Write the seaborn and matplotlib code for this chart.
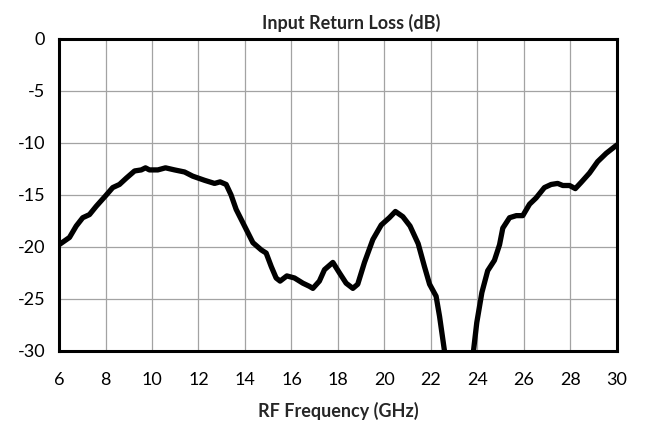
import numpy as np
import pandas as pd
import seaborn as sns
import matplotlib.pyplot as plt

# values (frequency in GHz, return loss in dB)
freq = [6.0, 6.45, 6.74, 7.02, 7.31, 7.6, 8.0, 8.31, 8.6, 8.89, 9.25, 9.54, 9.72, 9.89,
        10.25, 10.58, 10.97, 11.4, 11.75, 12.26, 12.69, 12.93, 13.19, 13.4, 13.62, 13.98,
        14.34, 14.7, 14.91, 15.13, 15.34, 15.51, 15.8, 16.13, 16.49, 16.77, 16.92, 17.2,
        17.42, 17.78, 18.06, 18.35, 18.64, 18.85, 19.14, 19.5, 19.86, 20.21, 20.47, 20.79,
        21.1, 21.45, 21.72, 21.94, 22.22, 22.37, 22.58, 22.8, 23.2, 23.65, 23.83, 23.97,
        24.19, 24.44, 24.73, 24.95, 25.09, 25.38, 25.67, 25.95, 26.24, 26.52, 26.88, 27.17,
        27.45, 27.67, 27.96, 28.21, 28.46, 28.82, 29.17, 29.54, 29.94, 30.0]
loss = [-19.8, -19.1, -18.0, -17.2, -16.9, -16.1, -15.1, -14.3, -14.0, -13.4, -12.7, -12.6,
        -12.4, -12.6, -12.6, -12.4, -12.6, -12.8, -13.2, -13.6, -13.9, -13.75, -14.0, -15.0,
        -16.4, -18.0, -19.6, -20.3, -20.6, -21.9, -23.0, -23.3, -22.8, -23.0, -23.5, -23.8,
        -24.0, -23.3, -22.2, -21.5, -22.5, -23.5, -24.0, -23.6, -21.5, -19.3, -17.9, -17.2,
        -16.6, -17.1, -18.0, -19.7, -21.9, -23.6, -24.75, -26.7, -30.0, -33.0, -38.0, -33.0,
        -30.0, -27.3, -24.4, -22.3, -21.3, -19.8, -18.2, -17.2, -17.0, -17.0, -15.9, -15.3,
        -14.3, -14.0, -13.9, -14.1, -14.1, -14.4, -13.8, -12.9, -11.8, -11.0, -10.3, -10.2]

xticks = list(range(6, 31, 2))
yticks = list(range(-30, 1, 5))

df = pd.DataFrame({'freq': freq, 'loss': loss})

sns.set_style('white')
plt.rcParams['font.family'] = ['Lato', 'DejaVu Sans']
plt.rcParams['axes.unicode_minus'] = False

fig = plt.figure(figsize=(6.45, 4.33), dpi=100)
ax = fig.add_axes([0.0915, 0.19, 0.865, 0.72])

sns.lineplot(ax=ax, data=df, x='freq', y='loss', color='black', linewidth=3.8,
             sort=False, estimator=None)

ax.set_xlim(6, 30)
ax.set_ylim(-30, 0)
ax.set_xticks(xticks)
ax.set_yticks(yticks)
ax.tick_params(axis='both', labelsize=13, length=0, colors='black')
ax.tick_params(axis='x', pad=15)
ax.tick_params(axis='y', pad=10)
ax.grid(True, color='#a3a3a3', linewidth=0.9)
ax.set_axisbelow(True)
for s in ax.spines.values():
    s.set_color('black')
    s.set_linewidth(2.2)

ax.set_title('Input Return Loss (dB)', fontsize=13, fontweight='bold', pad=7, x=0.523)
ax.set_xlabel('RF Frequency (GHz)', fontsize=13, fontweight='bold', labelpad=10)
ax.set_ylabel('')

fig.savefig('out.png', dpi=100)
